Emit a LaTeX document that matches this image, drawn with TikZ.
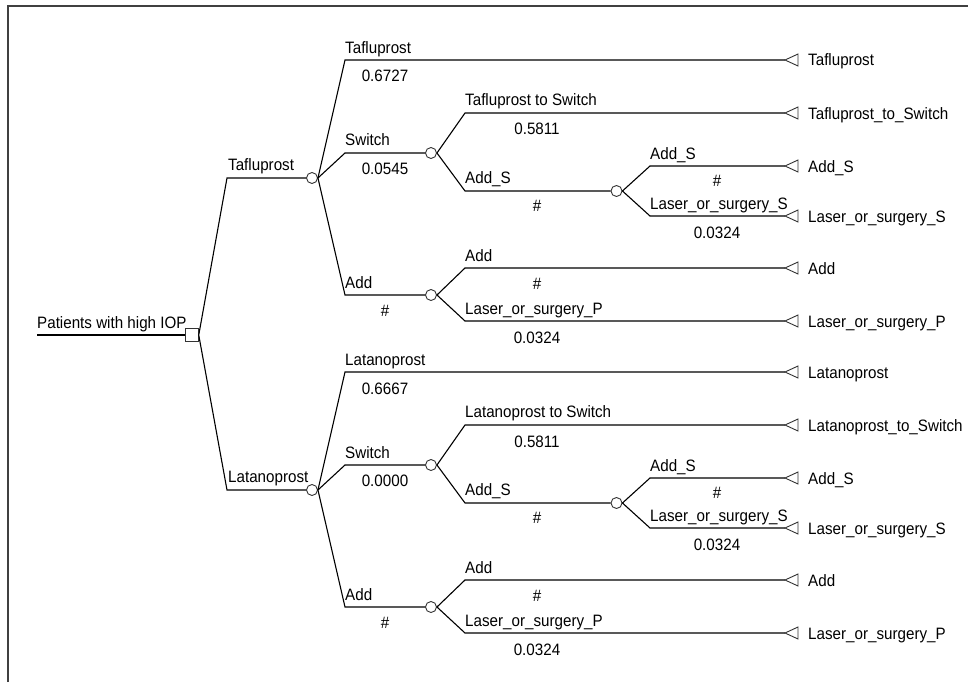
\documentclass[tikz,border=0pt]{standalone}
\usepackage{fontspec}
\setmainfont[FakeStretch=0.92]{Liberation Sans}
\begin{document}
\begin{tikzpicture}[x=1pt,y=-1pt,
  txt/.style={inner sep=0pt,font=\fontsize{16.5}{19}\selectfont},
  lab/.style={txt,anchor=base west},
  prob/.style={txt,anchor=base},
  term/.style={txt,anchor=base west},
  br/.style={line width=1.1pt,black},
  frame/.style={line width=1.2pt,black!75},
  chance/.style={circle,draw=black!80,line width=0.9pt,minimum size=11pt,inner sep=0pt},
  decision/.style={rectangle,draw=black!80,line width=1pt,minimum size=12.5pt,inner sep=0pt},
  tri/.style={draw=black!80,line width=0.9pt}
]
\useasboundingbox (0,0) rectangle (968,682);
\draw[frame] (8,682) -- (8,6) -- (968,6);

% root decision node
\node[decision] (root) at (192,335) {};
\coordinate (rootin) at (37,335);
\draw[br] (rootin) -- (root.west);
\node[lab] (rootlab) at (37,328) {Patients with high IOP};

\foreach \p/\dy/\drug/\pa/\pb in {T/0/Tafluprost/0.6727/0.0545, L/312/Latanoprost/0.6667/0.0000}{
\begin{scope}[yshift=-\dy pt]
  % nodes
  \node[chance] (\p-c1) at (312,178) {};
  \node[chance] (\p-c2) at (431,153) {};
  \node[chance] (\p-c3) at (431,295) {};
  \node[chance] (\p-c4) at (616.5,191) {};
  \coordinate (\p-b0) at (227,178);
  \coordinate (\p-b1) at (345,60);
  \coordinate (\p-b2) at (345,153);
  \coordinate (\p-b3) at (345,295);
  \coordinate (\p-b4) at (465,113);
  \coordinate (\p-b5) at (465,191);
  \coordinate (\p-b6) at (650,166);
  \coordinate (\p-b7) at (650,216);
  \coordinate (\p-b8) at (465,268);
  \coordinate (\p-b9) at (465,321);
  \coordinate (\p-t1) at (785,60);
  \coordinate (\p-t2) at (785,113);
  \coordinate (\p-t3) at (785,166);
  \coordinate (\p-t4) at (785,216);
  \coordinate (\p-t5) at (785,268);
  \coordinate (\p-t6) at (785,321);
  % connectors
  \draw[br] (root.east) -- (\p-b0) -- (\p-c1.west);
  \draw[br] (\p-c1.east) -- (\p-b1) -- (\p-t1);
  \draw[br] (\p-c1.east) -- (\p-b2) -- (\p-c2.west);
  \draw[br] (\p-c1.east) -- (\p-b3) -- (\p-c3.west);
  \draw[br] (\p-c2.east) -- (\p-b4) -- (\p-t2);
  \draw[br] (\p-c2.east) -- (\p-b5) -- (\p-c4.west);
  \draw[br] (\p-c4.east) -- (\p-b6) -- (\p-t3);
  \draw[br] (\p-c4.east) -- (\p-b7) -- (\p-t4);
  \draw[br] (\p-c3.east) -- (\p-b8) -- (\p-t5);
  \draw[br] (\p-c3.east) -- (\p-b9) -- (\p-t6);
  % terminal triangles
  \foreach \t in {1,...,6}{
    \draw[tri] (\p-t\t) -- ++(13,-6) -- ++(0,12) -- cycle;
  }
  % branch labels
  \node[lab] at (228,170.5) {\drug};
  \node[lab] at (345,53.5) {\drug};
  \node[prob] at (385,82) {\pa};
  \node[lab] at (345,146) {Switch};
  \node[prob] at (385,174.5) {\pb};
  \node[lab] at (345,288) {Add};
  \node[prob] at (385,316) {\#};
  \node[lab] at (465,105.5) {\drug{} to Switch};
  \node[prob] at (537,135) {0.5811};
  \node[lab] at (465,183.5) {Add\_S};
  \node[prob] at (537,211) {\#};
  \node[lab] at (650,159.5) {Add\_S};
  \node[prob] at (717,186.5) {\#};
  \node[lab] at (650,209.5) {Laser\_or\_surgery\_S};
  \node[prob] at (717,238) {0.0324};
  \node[lab] at (465,261) {Add};
  \node[prob] at (537,289) {\#};
  \node[lab] at (465,314.5) {Laser\_or\_surgery\_P};
  \node[prob] at (537,343) {0.0324};
  % terminal labels
  \node[term] at (808,66) {\drug};
  \node[term] at (808,119) {\drug\_to\_Switch};
  \node[term] at (808,172) {Add\_S};
  \node[term] at (808,222) {Laser\_or\_surgery\_S};
  \node[term] at (808,274) {Add};
  \node[term] at (808,327) {Laser\_or\_surgery\_P};
\end{scope}
}
\end{tikzpicture}
\end{document}
